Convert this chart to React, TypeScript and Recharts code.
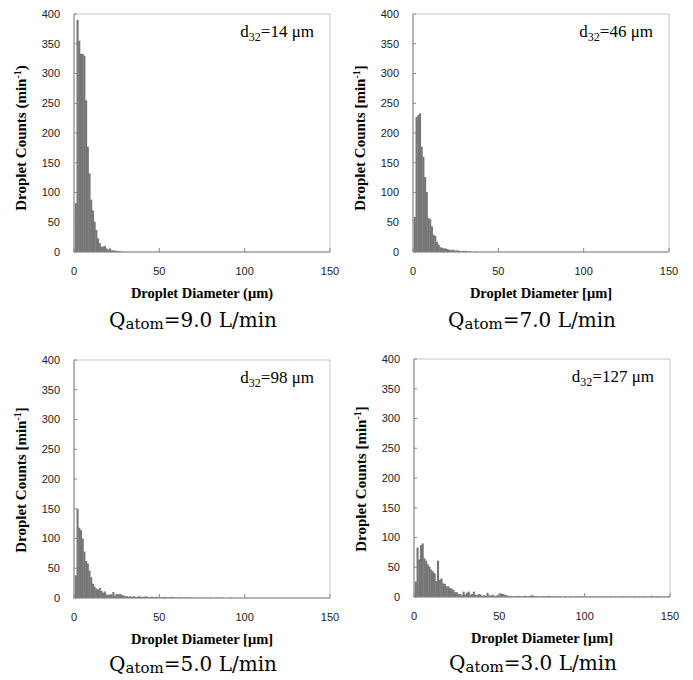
import { BarChart, Bar, XAxis, YAxis, ReferenceArea } from 'recharts';

// droplet counts per 1 µm diameter bin, starting at the 1 µm bin
const counts90 = [82, 390, 355, 333, 333, 330, 255, 177, 132, 88, 70, 51, 37, 23, 15, 9, 9, 10, 6, 4, 6, 3, 3, 2, 2, 1, 1, 1];

const counts70 = [59, 227, 230, 233, 177, 160, 126, 101, 57, 55, 43, 29, 27, 17, 12, 8, 7, 6, 6, 5, 4, 3, 4, 3, 2, 3, 2, 1, 2, 1, 2, 1, 1, 0, 0, 0, 1];

const counts50 = [
  38, 150, 118, 114, 100, 78, 62, 58, 46, 35, 24, 19, 16, 14, 17, 12, 9, 11, 6, 5, 6, 6, 10, 4, 7, 6, 7, 5, 4, 3,
  3, 2, 3, 2, 3, 2, 2, 3, 2, 2, 2, 3, 2, 1, 2, 2, 1, 2, 1, 2, 1, 1, 2, 1, 1, 1, 2, 1, 1, 0,
  1, 1, 0, 1, 0, 1, 1, 0, 1, 0, 0, 1, 0, 1, 0, 0, 1, 0, 0, 1, 0, 0, 0, 1, 0, 0, 1, 0, 0, 0,
  0, 1,
];

const counts30 = [
  26, 83, 63, 87, 90, 65, 61, 55, 51, 46, 43, 40, 27, 61, 29, 31, 23, 22, 18, 18,
  15, 14, 12, 8, 8, 5, 5, 3, 9, 4, 7, 9, 4, 5, 9, 4, 3, 5, 4, 2,
  3, 2, 7, 3, 2, 4, 2, 2, 3, 5, 6, 5, 4, 3, 2, 1, 2, 1, 1, 1,
  2, 1, 1, 1, 2, 1, 1, 2, 3, 2, 1, 1, 1, 0, 1, 1, 1, 1, 2, 1,
  1, 1, 0, 1, 1, 1, 0, 1, 1, 0, 1, 1, 0, 1, 1, 0, 1, 1, 1, 0,
  1, 0, 1, 1, 0, 1, 0, 1, 1, 0, 1, 0, 1, 0, 1, 1, 0, 1, 0, 1,
  0, 1, 1, 0, 1, 0, 1, 0, 1, 1, 0, 1, 0, 1, 1, 0, 1, 0, 2, 1,
  0, 1, 1, 0, 1, 0, 1, 0, 1, 1,
];

const xTicks = [0, 50, 100, 150];
const yTicks = [0, 50, 100, 150, 200, 250, 300, 350, 400];

const toRows = (counts: number[]) => counts.map((count, i) => ({ diameter: i + 1, count }));

const tickStyle = { fill: '#222', fontSize: 11, fontFamily: 'Liberation Sans, Arial, sans-serif' };
const serif = 'Liberation Serif, Times New Roman, serif';
const barColor = '#767676';

// keep neighbouring 1 µm bins touching, like the spreadsheet histogram
function BinBar(props: any) {
  const { x, y, width, height } = props;
  if (!height || height <= 0) return null;
  const cx = x + width / 2;
  return <rect x={cx - 1.05} y={y} width={2.1} height={height} fill={barColor} />;
}

interface PanelProps {
  left: number;
  top: number;
  counts: number[];
  flow: string;
  d32: string;
  square: boolean;
  titleY: number;
  subY: number;
}

function Panel({ left, top, counts, flow, d32, square, titleY, subY }: PanelProps) {
  const open = square ? '[' : '(';
  const close = square ? ']' : ')';
  return (
    <div style={{ position: 'absolute', left, top, width: 345, height: 335 }}>
      <BarChart
        width={340}
        height={284}
        data={toRows(counts)}
        margin={{ top: 14, right: 10, bottom: 0, left: 0 }}
        barCategoryGap={0}
      >
        <ReferenceArea x1={0} x2={150} y1={0} y2={400} fill="none" stroke="#c6c6c6" />
        <XAxis
          dataKey="diameter"
          type="number"
          domain={[0, 150]}
          ticks={xTicks}
          interval={0}
          allowDataOverflow
          height={32}
          stroke="#888"
          tickSize={-4}
          tickMargin={19}
          tick={tickStyle}
        />
        <YAxis
          type="number"
          domain={[0, 400]}
          ticks={yTicks}
          interval={0}
          width={74}
          stroke="#888"
          tickSize={-3}
          tickMargin={17}
          tick={tickStyle}
        />
        <Bar dataKey="count" fill={barColor} shape={BinBar} isAnimationActive={false} />
      </BarChart>
      <svg style={{ position: 'absolute', left: 0, top: 0, pointerEvents: 'none' }} width={345} height={335}>
        <text
          transform={`translate(26, ${titleY}) rotate(-90)`}
          textAnchor="middle"
          fontFamily={serif}
          fontWeight="bold"
          fontSize={15}
        >
          Droplet Counts {open}min<tspan fontSize={10} dy={-5}>-1</tspan>
          <tspan dy={5}>{close}</tspan>
        </text>
        <text x={202} y={298} textAnchor="middle" fontFamily={serif} fontWeight="bold" fontSize={14.5}>
          Droplet Diameter {open}μm{close}
        </text>
        <text x={314} y={37} textAnchor="end" fontFamily={serif} fontSize={17}>
          d<tspan fontSize={12} dy={4}>32</tspan>
          <tspan dy={-4}>={d32} μm</tspan>
        </text>
        <text x={193} y={subY} textAnchor="middle" fontFamily="DejaVu Serif, serif" fontSize={20}>
          Q<tspan fontSize={15} dy={2}>atom</tspan>
          <tspan dy={-2}>={flow} L/min</tspan>
        </text>
      </svg>
    </div>
  );
}

export default function App() {
  return (
    <div
      style={{
        position: 'absolute',
        left: 0,
        top: 0,
        width: 693,
        height: 680,
        overflow: 'hidden',
        background: '#fff',
      }}
    >
      <Panel left={0} top={0} counts={counts90} flow="9.0" d32="14" square={false} titleY={138} subY={327} />
      <Panel left={339} top={0} counts={counts70} flow="7.0" d32="46" square titleY={138} subY={327} />
      <Panel left={0} top={346} counts={counts50} flow="5.0" d32="98" square titleY={134} subY={325} />
      <Panel left={340} top={345} counts={counts30} flow="3.0" d32="127" square titleY={134} subY={325} />
    </div>
  );
}
